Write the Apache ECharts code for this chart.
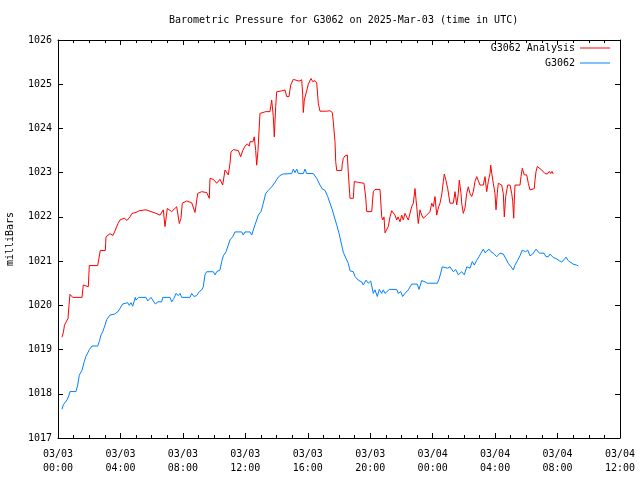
<!DOCTYPE html>
<html>
<head>
<meta charset="utf-8">
<script src="https://cdn.jsdelivr.net/npm/echarts@6/dist/echarts.min.js"></script>
<style>html,body{margin:0;padding:0;background:#fff}#c{width:640px;height:480px}</style>
</head>
<body>
<div id="c"></div>
<script>
// time in hours since 2025-03-03 00:00 UTC, pressure in mbar
const analysisData = [[0.256,1019.28],[0.340,1019.38],[0.416,1019.55],[0.512,1019.62],[0.641,1019.70],[0.705,1020.00],[0.769,1020.25],[0.833,1020.22],[0.942,1020.18],[1.537,1020.18],[1.621,1020.46],[1.729,1020.42],[1.941,1020.42],[2.005,1020.90],[2.543,1020.90],[2.710,1021.24],[3.030,1021.24],[3.075,1021.55],[3.331,1021.62],[3.523,1021.58],[3.670,1021.70],[3.844,1021.85],[3.971,1021.93],[4.100,1021.95],[4.247,1021.97],[4.420,1021.92],[4.612,1022.00],[4.740,1022.08],[4.996,1022.10],[5.208,1022.14],[5.637,1022.16],[5.958,1022.12],[6.278,1022.08],[6.342,1022.12],[6.534,1022.04],[6.745,1022.16],[6.854,1021.78],[7.001,1022.19],[7.283,1022.12],[7.386,1022.08],[7.604,1022.23],[7.770,1021.85],[7.879,1021.97],[7.962,1022.31],[8.244,1022.36],[8.564,1022.32],[8.776,1022.10],[8.885,1022.10],[8.949,1022.53],[9.205,1022.57],[9.525,1022.55],[9.692,1022.42],[9.737,1022.87],[9.948,1022.85],[10.166,1022.76],[10.377,1022.85],[10.550,1022.72],[10.698,1023.06],[10.909,1022.95],[11.018,1023.21],[11.082,1023.47],[11.229,1023.52],[11.550,1023.50],[11.703,1023.36],[11.832,1023.50],[11.979,1023.60],[12.126,1023.65],[12.254,1023.60],[12.299,1023.70],[12.491,1023.70],[12.574,1023.81],[12.664,1023.50],[12.728,1023.17],[12.811,1023.50],[12.939,1024.34],[13.132,1024.36],[13.305,1024.38],[13.580,1024.38],[13.689,1024.64],[13.792,1024.27],[13.856,1023.81],[13.945,1024.50],[14.009,1024.83],[14.330,1024.85],[14.541,1024.87],[14.650,1024.72],[14.797,1024.72],[14.906,1024.98],[15.073,1025.11],[15.182,1025.07],[15.438,1025.07],[15.611,1025.10],[15.675,1024.76],[15.713,1024.36],[15.777,1024.64],[15.931,1024.85],[16.034,1025.00],[16.207,1025.13],[16.315,1025.06],[16.463,1025.08],[16.572,1025.03],[16.674,1024.57],[16.783,1024.39],[17.212,1024.39],[17.424,1024.40],[17.571,1024.36],[17.635,1024.15],[17.744,1023.70],[17.789,1023.25],[17.853,1023.05],[18.173,1023.05],[18.211,1023.20],[18.275,1023.32],[18.384,1023.38],[18.532,1023.40],[18.596,1023.00],[18.705,1022.42],[18.916,1022.42],[18.980,1022.80],[19.236,1022.78],[19.345,1022.80],[19.601,1022.76],[19.710,1022.45],[19.774,1022.12],[20.095,1022.12],[20.197,1022.57],[20.306,1022.62],[20.627,1022.62],[20.736,1022.00],[20.800,1021.93],[20.883,1022.00],[20.947,1021.64],[21.056,1021.61],[21.158,1021.78],[21.267,1022.00],[21.376,1022.14],[21.478,1022.17],[21.587,1022.04],[21.696,1021.93],[21.780,1022.00],[21.908,1021.89],[22.017,1022.04],[22.119,1021.93],[22.228,1022.08],[22.337,1022.00],[22.439,1021.93],[22.548,1021.89],[22.657,1022.23],[22.760,1022.31],[22.868,1022.64],[22.977,1022.23],[23.080,1021.85],[23.189,1022.16],[23.298,1022.04],[23.400,1021.97],[23.618,1022.04],[23.830,1022.12],[23.939,1022.31],[24.041,1022.23],[24.150,1022.46],[24.259,1022.04],[24.361,1022.20],[24.470,1022.31],[24.579,1022.50],[24.681,1022.80],[24.745,1022.97],[24.835,1022.85],[24.963,1022.64],[25.110,1022.31],[25.322,1022.31],[25.431,1022.57],[25.540,1022.27],[25.642,1022.53],[25.706,1022.83],[25.815,1022.53],[25.860,1022.31],[25.962,1022.08],[26.071,1022.20],[26.180,1022.53],[26.283,1022.68],[26.392,1022.53],[26.500,1022.46],[26.603,1022.57],[26.712,1022.80],[26.821,1022.91],[26.923,1022.87],[27.032,1022.72],[27.244,1022.72],[27.353,1022.91],[27.461,1022.57],[27.564,1022.80],[27.673,1022.98],[27.718,1023.17],[27.801,1022.95],[27.884,1022.76],[27.993,1022.53],[28.057,1022.16],[28.140,1022.53],[28.205,1022.76],[28.313,1022.76],[28.422,1022.72],[28.525,1022.53],[28.589,1022.00],[28.678,1022.46],[28.807,1022.72],[28.954,1022.72],[29.063,1022.53],[29.127,1022.35],[29.191,1021.97],[29.229,1022.38],[29.274,1022.72],[29.594,1022.72],[29.658,1022.91],[29.742,1023.10],[29.870,1022.95],[30.024,1022.95],[30.126,1022.76],[30.235,1022.61],[30.363,1022.57],[30.511,1022.64],[30.555,1022.83],[30.619,1023.02],[30.703,1023.14],[30.831,1023.10],[30.985,1023.06],[31.087,1023.05],[31.196,1022.98],[31.343,1022.97],[31.471,1023.03],[31.561,1022.98],[31.644,1023.03],[31.728,1022.97]];

const stationData = [[0.256,1017.65],[0.340,1017.75],[0.468,1017.78],[0.577,1017.86],[0.685,1017.95],[0.769,1018.05],[1.153,1018.05],[1.262,1018.20],[1.364,1018.42],[1.537,1018.53],[1.685,1018.73],[1.794,1018.85],[1.902,1018.92],[2.005,1019.00],[2.178,1019.08],[2.543,1019.08],[2.646,1019.18],[2.754,1019.33],[2.863,1019.40],[3.011,1019.55],[3.120,1019.68],[3.331,1019.78],[3.606,1019.80],[3.824,1019.85],[3.971,1019.93],[4.145,1020.03],[4.247,1020.06],[4.465,1020.06],[4.567,1020.00],[4.676,1020.06],[4.785,1019.98],[4.952,1020.18],[4.996,1020.12],[5.169,1020.18],[5.637,1020.18],[5.746,1020.10],[5.848,1020.08],[5.957,1020.18],[6.066,1020.12],[6.233,1020.03],[6.278,1020.00],[6.406,1020.08],[6.643,1020.08],[6.707,1020.18],[7.174,1020.18],[7.283,1020.08],[7.431,1020.16],[7.559,1020.27],[7.706,1020.22],[7.815,1020.27],[7.924,1020.18],[8.456,1020.18],[8.564,1020.27],[8.712,1020.20],[8.885,1020.22],[9.051,1020.31],[9.205,1020.35],[9.308,1020.42],[9.416,1020.69],[9.525,1020.76],[9.948,1020.76],[10.057,1020.69],[10.166,1020.76],[10.377,1020.80],[10.486,1020.99],[10.589,1021.12],[10.762,1021.21],[10.909,1021.36],[11.018,1021.48],[11.191,1021.55],[11.338,1021.66],[11.767,1021.66],[11.870,1021.59],[11.979,1021.66],[12.299,1021.66],[12.408,1021.59],[12.510,1021.70],[12.619,1021.82],[12.728,1021.93],[12.831,1022.04],[13.004,1022.12],[13.151,1022.31],[13.305,1022.53],[13.471,1022.60],[13.689,1022.68],[13.900,1022.78],[14.112,1022.90],[14.285,1022.95],[14.432,1022.97],[14.970,1022.98],[15.073,1023.08],[15.182,1023.00],[15.291,1023.08],[15.393,1022.98],[15.713,1022.98],[15.822,1023.08],[15.931,1022.98],[16.354,1022.98],[16.572,1022.87],[16.783,1022.72],[16.930,1022.63],[17.103,1022.60],[17.276,1022.46],[17.424,1022.31],[17.571,1022.16],[17.699,1022.00],[17.853,1021.82],[18.000,1021.63],[18.173,1021.36],[18.276,1021.20],[18.449,1021.06],[18.596,1020.95],[18.705,1020.78],[18.916,1020.76],[19.025,1020.65],[19.236,1020.57],[19.454,1020.53],[19.557,1020.46],[19.730,1020.57],[19.877,1020.50],[20.031,1020.55],[20.197,1020.27],[20.306,1020.35],[20.453,1020.20],[20.581,1020.36],[20.736,1020.27],[20.838,1020.35],[20.947,1020.27],[21.056,1020.31],[21.222,1020.36],[21.696,1020.36],[21.799,1020.27],[21.952,1020.31],[22.081,1020.20],[22.228,1020.27],[22.439,1020.35],[22.657,1020.48],[23.016,1020.48],[23.125,1020.36],[23.298,1020.56],[23.509,1020.53],[23.656,1020.50],[24.297,1020.50],[24.425,1020.61],[24.617,1020.87],[24.745,1020.84],[24.963,1020.84],[25.110,1020.87],[25.322,1020.76],[25.476,1020.81],[25.642,1020.69],[25.860,1020.76],[26.027,1020.69],[26.180,1020.87],[26.283,1020.91],[26.392,1020.84],[26.539,1020.99],[26.667,1020.91],[26.821,1021.02],[26.968,1021.10],[27.096,1021.18],[27.244,1021.27],[27.353,1021.19],[27.461,1021.18],[27.609,1021.27],[27.737,1021.21],[27.884,1021.18],[28.102,1021.10],[28.313,1021.18],[28.525,1021.16],[28.678,1021.06],[28.845,1020.95],[29.018,1020.87],[29.165,1020.80],[29.274,1020.91],[29.447,1021.02],[29.594,1021.12],[29.742,1021.25],[29.870,1021.29],[29.959,1021.21],[30.088,1021.25],[30.235,1021.12],[30.408,1021.16],[30.511,1021.18],[30.619,1021.27],[30.703,1021.29],[30.831,1021.18],[31.132,1021.18],[31.260,1021.10],[31.407,1021.10],[31.516,1021.16],[31.625,1021.16],[31.728,1021.08],[31.900,1021.06],[32.112,1021.01],[32.265,1020.98],[32.413,1021.03],[32.541,1021.09],[32.688,1021.01],[32.797,1020.97],[33.008,1020.93],[33.226,1020.91],[33.329,1020.89]];

const xTickLabels = ['03/03\n00:00','03/03\n04:00','03/03\n08:00','03/03\n12:00','03/03\n16:00','03/03\n20:00','03/04\n00:00','03/04\n04:00','03/04\n08:00','03/04\n12:00'];
const seriesNames = ['G3062 Analysis', 'G3062'];
const titleText = 'Barometric Pressure for G3062 on 2025-Mar-03 (time in UTC)';
const yName = 'milliBars';

const FONT = '"DejaVu Sans Mono", "Liberation Mono", monospace';
const black = '#000';
const tickCommon = { inside: true, length: 5, lineStyle: { color: black, width: 1 } };
const minorCommon = { show: true, splitNumber: 4, length: 3, lineStyle: { color: black, width: 1 } };

const chart = echarts.init(document.getElementById('c'), null, { renderer: 'canvas' });
chart.setOption({
  animation: false,
  backgroundColor: '#fff',
  title: {
    text: titleText, left: 164, top: 10,
    textStyle: { fontFamily: FONT, fontSize: 10, fontWeight: 'normal', color: black }
  },
  legend: {
    orient: 'vertical', right: 25, top: 38, align: 'right',
    icon: 'rect', itemWidth: 30, itemHeight: 1, itemGap: 5,
    textStyle: { fontFamily: FONT, fontSize: 10, color: black },
    data: seriesNames
  },
  grid: { left: 58, right: 20, top: 40, bottom: 42, containLabel: false, outerBoundsMode: 'none' },
  xAxis: [
    {
      type: 'value', min: 0, max: 36, interval: 4, position: 'bottom',
      axisLine: { show: true, onZero: false, lineStyle: { color: black, width: 1 } },
      axisTick: tickCommon, minorTick: minorCommon, splitLine: { show: false },
      axisLabel: {
        formatter: v => xTickLabels[Math.round(v / 4)],
        fontFamily: FONT, fontSize: 10, color: black, lineHeight: 14, margin: 9
      }
    },
    {
      type: 'value', min: 0, max: 36, interval: 4, position: 'top',
      axisLine: { show: true, onZero: false, lineStyle: { color: black, width: 1 } },
      axisTick: tickCommon, minorTick: minorCommon, splitLine: { show: false },
      axisLabel: { show: false }
    }
  ],
  yAxis: [
    {
      type: 'value', min: 1017, max: 1026, interval: 1, position: 'left',
      name: yName, nameLocation: 'middle', nameGap: 43, nameRotate: 90,
      nameTextStyle: { fontFamily: FONT, fontSize: 10, color: black },
      axisLine: { show: true, onZero: false, lineStyle: { color: black, width: 1 } },
      axisTick: tickCommon, splitLine: { show: false },
      axisLabel: { formatter: v => String(v), fontFamily: FONT, fontSize: 10, color: black, margin: 6 }
    },
    {
      type: 'value', min: 1017, max: 1026, interval: 1, position: 'right',
      axisLine: { show: true, onZero: false, lineStyle: { color: black, width: 1 } },
      axisTick: tickCommon, splitLine: { show: false },
      axisLabel: { show: false }
    }
  ],
  series: [
    {
      name: seriesNames[0], type: 'line', data: analysisData, symbol: 'none',
      xAxisIndex: 0, yAxisIndex: 0,
      lineStyle: { color: '#ff0000', width: 1 }, itemStyle: { color: '#ff0000' }
    },
    {
      name: seriesNames[1], type: 'line', data: stationData, symbol: 'none',
      xAxisIndex: 0, yAxisIndex: 0,
      lineStyle: { color: '#0080ff', width: 1 }, itemStyle: { color: '#0080ff' }
    }
  ]
});
</script>
</body>
</html>
